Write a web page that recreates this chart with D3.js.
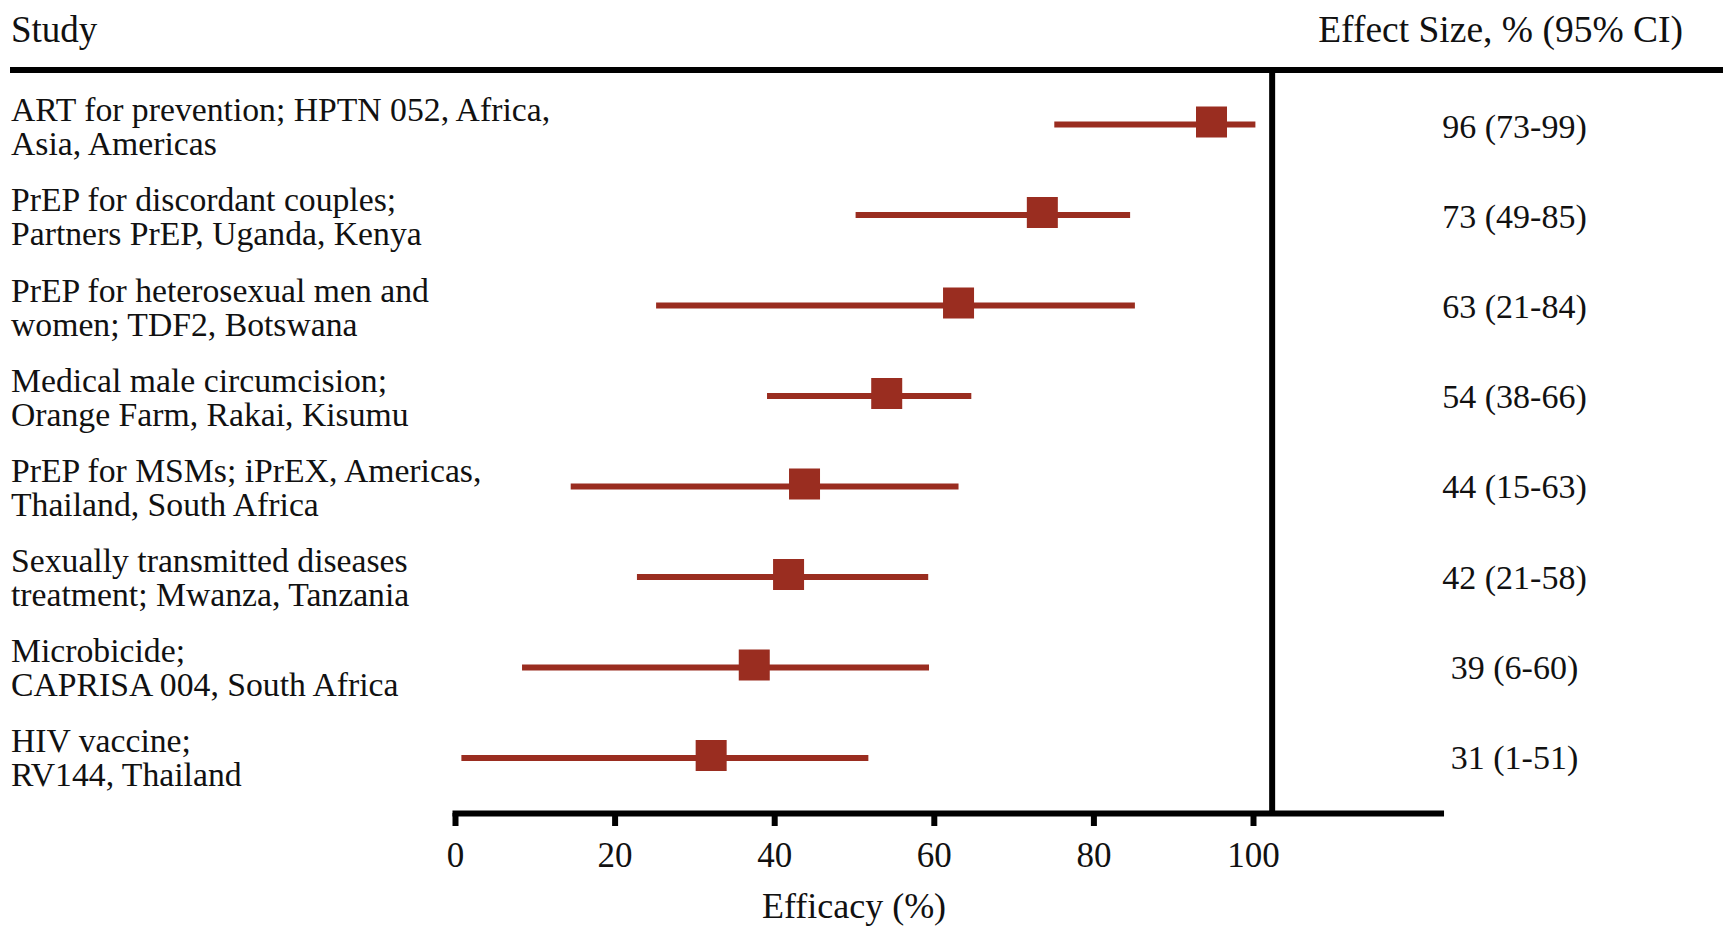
<!DOCTYPE html>
<html>
<head>
<meta charset="utf-8">
<script src="https://cdn.jsdelivr.net/npm/d3@7"></script>
<style>
  html, body { margin: 0; padding: 0; background: #fff; }
  svg { display: block; font-family: "Liberation Serif", "DejaVu Serif", serif; }
</style>
</head>
<body>
<svg id="chart" width="1723" height="930"></svg>
<script>
// ---- data ----
const studyLine1 = [
  "ART for prevention; HPTN 052, Africa,",
  "PrEP for discordant couples;",
  "PrEP for heterosexual men and",
  "Medical male circumcision;",
  "PrEP for MSMs; iPrEX, Americas,",
  "Sexually transmitted diseases",
  "Microbicide;",
  "HIV vaccine;"
];
const studyLine2 = [
  "Asia, Americas",
  "Partners PrEP, Uganda, Kenya",
  "women; TDF2, Botswana",
  "Orange Farm, Rakai, Kisumu",
  "Thailand, South Africa",
  "treatment; Mwanza, Tanzania",
  "CAPRISA 004, South Africa",
  "RV144, Thailand"
];
const effectLabels = [
  "96 (73-99)", "73 (49-85)", "63 (21-84)", "54 (38-66)",
  "44 (15-63)", "42 (21-58)", "39 (6-60)", "31 (1-51)"
];
// positions as drawn in the picture
const pointEst = [94.8, 73.6, 63.1, 54.1, 43.8, 41.8, 37.5, 32.1];
const ciLow    = [75.1, 50.2, 25.2, 39.1, 14.5, 22.8, 8.4, 0.8];
const ciHigh   = [100.3, 84.6, 85.2, 64.7, 63.1, 59.3, 59.4, 51.8];
const tickValues = [0, 20, 40, 60, 80, 100];
const axisMax = 123.5;
const dividerValue = 102.4;

// ---- layout ----
const svg = d3.select("#chart");
const red = "#9a2d20";
const x = d3.scaleLinear().domain([0, axisMax]).range([455, 455 + axisMax * 7.98]);
const rows = d3.range(studyLine1.length);
const y = d3.scalePoint().domain(rows).range([122, 755.5]);      // marker rows
const ty = d3.scalePoint().domain(rows).range([121.3, 752]);     // text rows (first baseline)
const axisY = 813;

// header
svg.append("text").attr("x", 11).attr("y", 42)
  .attr("font-size", 37).attr("fill", "#111").text("Study");
svg.append("text").attr("x", 1683).attr("y", 42).attr("text-anchor", "end")
  .attr("font-size", 37.5).attr("fill", "#111").text("Effect Size, % (95% CI)");

// top rule
svg.append("line").attr("x1", 10).attr("x2", 1723).attr("y1", 70).attr("y2", 70)
  .attr("stroke", "#000").attr("stroke-width", 6);

// vertical divider
svg.append("line").attr("x1", x(dividerValue)).attr("x2", x(dividerValue))
  .attr("y1", 70).attr("y2", axisY)
  .attr("stroke", "#000").attr("stroke-width", 6);

// labels
const lab = svg.append("g").attr("font-size", 33.7).attr("fill", "#111");
lab.selectAll("text.l1").data(rows).join("text").attr("class", "l1")
  .attr("x", 11).attr("y", i => ty(i)).text(i => studyLine1[i]);
lab.selectAll("text.l2").data(rows).join("text").attr("class", "l2")
  .attr("x", 11).attr("y", i => ty(i) + 34).text(i => studyLine2[i]);
lab.selectAll("text.eff").data(rows).join("text").attr("class", "eff")
  .attr("x", 1514.5).attr("y", i => ty(i) + 16.7).attr("text-anchor", "middle")
  .attr("font-size", 34).text(i => effectLabels[i]);

// CI lines
svg.append("g").selectAll("line").data(rows).join("line")
  .attr("x1", i => x(ciLow[i])).attr("x2", i => x(ciHigh[i]))
  .attr("y1", i => y(i) + 2.5).attr("y2", i => y(i) + 2.5)
  .attr("stroke", red).attr("stroke-width", 6);

// point markers
const sq = 31;
svg.append("g").selectAll("rect").data(rows).join("rect")
  .attr("x", i => x(pointEst[i]) - sq / 2).attr("y", i => y(i) - sq / 2)
  .attr("width", sq).attr("height", sq).attr("fill", red);

// axis
const axis = d3.axisBottom(x).tickValues(tickValues).tickSize(13).tickSizeOuter(0).tickPadding(12);
const ag = svg.append("g").attr("transform", `translate(0,${axisY})`).call(axis);
ag.select(".domain").attr("stroke", "#000").attr("stroke-width", 6).attr("stroke-linecap", "square");
ag.selectAll(".tick line").attr("stroke", "#000").attr("stroke-width", 6).attr("y1", 0);
ag.selectAll(".tick text").attr("font-size", 35).attr("fill", "#111")
  .attr("font-family", "Liberation Serif, serif").attr("dy", null).attr("y", 54);

svg.append("text").attr("x", x(50)).attr("y", 918).attr("text-anchor", "middle")
  .attr("font-size", 36).attr("fill", "#111").text("Efficacy (%)");
</script>
</body>
</html>
